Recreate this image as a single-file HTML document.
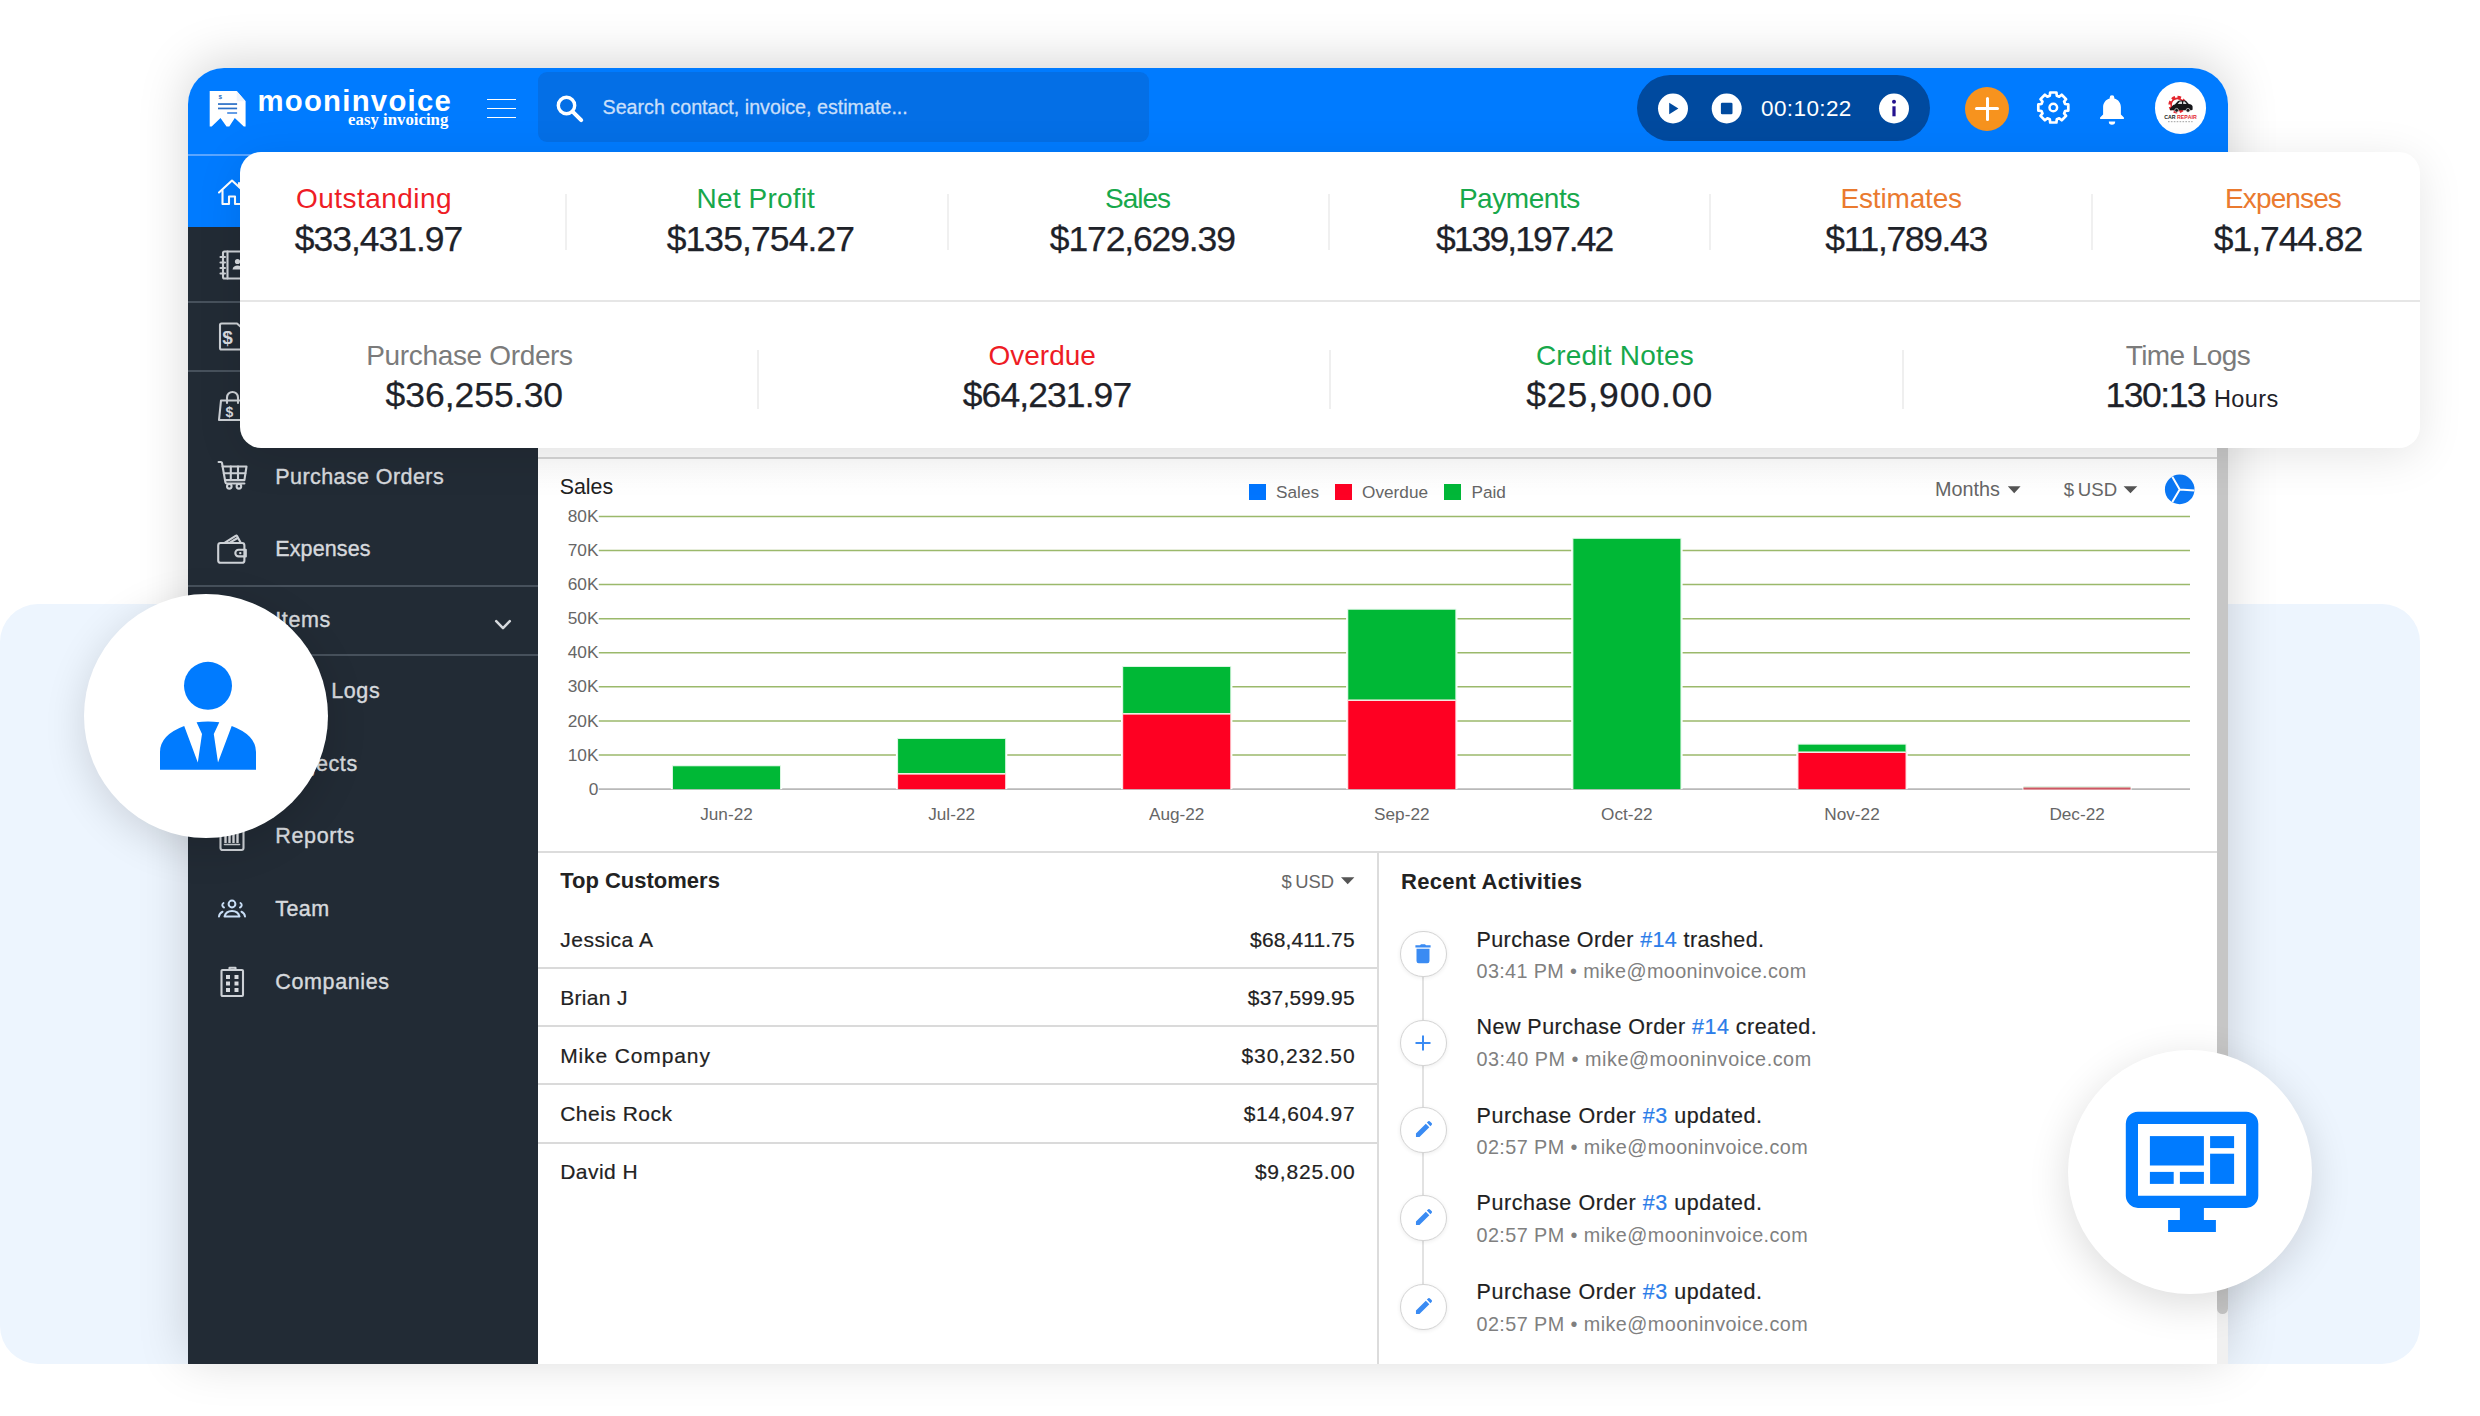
<!DOCTYPE html>
<html lang="en"><head><meta charset="utf-8"><title>Moon Invoice Dashboard</title>
<style>
html,body{margin:0;padding:0}
body{width:2480px;height:1416px;position:relative;overflow:hidden;background:#fff;font-family:'Liberation Sans', sans-serif;font-kerning:none;-webkit-font-smoothing:antialiased}
svg{position:absolute;overflow:visible}
</style></head><body>
<div style="position:absolute;left:0.0px;top:604.0px;width:2420.0px;height:760.0px;background:#edf5fe;border-radius:38px;"></div><div style="position:absolute;left:188.0px;top:68.0px;width:2040.0px;height:1296.0px;background:#fff;border-radius:36px 36px 0 0;box-shadow:0 -6px 50px rgba(0,0,0,.17);"></div><div style="position:absolute;left:0;top:0;width:2480px;height:1416px;clip-path:inset(68px 252px 52px 188px round 36px 36px 0 0);"><div style="position:absolute;left:188.0px;top:68.0px;width:2040.0px;height:88.0px;background:#007bff;"></div><svg style="left:200px;top:84px" width="60" height="50" viewBox="200 84 60 50">
<path d="M209.700 91.100 H236.700 L245.600 101.300 V126.500 H243.800 L234.800 117.900 L229.300 126.500 H226.500 L220.500 117.900 L211.700 126.500 H209.700 Z" fill="#fff"/>
<path d="M236.700 91.100 V101.300 H245.600 Z" fill="#eef4fd"/>
<text x="220.200" y="99.300" font-family="Liberation Sans, sans-serif" font-weight="bold" font-size="6.200" text-anchor="middle" fill="#2b6dc2">$</text>
<rect x="218" y="103.200" width="19.100" height="1.700" fill="#2b6fc6"/>
<rect x="218" y="107.600" width="19.100" height="1.700" fill="#2b6fc6"/>
<rect x="227.200" y="112.200" width="9.900" height="1.600" fill="#3f86e0"/>
</svg><div style="position:absolute;left:257.4px;top:86.0px;font:bold 29.3px/29.3px 'Liberation Sans', sans-serif;color:#fff;white-space:pre;letter-spacing:1.28px;">mooninvoice</div><div style="position:absolute;right:2031.7px;top:112.4px;font:bold 16.8px/16.8px 'Liberation Serif', serif;color:#fff;white-space:pre;">easy invoicing</div><div style="position:absolute;left:486.6px;top:98.6px;width:29.6px;height:1.8px;background:#fff;"></div><div style="position:absolute;left:486.6px;top:107.6px;width:29.6px;height:1.8px;background:#fff;"></div><div style="position:absolute;left:486.6px;top:116.6px;width:29.6px;height:1.8px;background:#fff;"></div><div style="position:absolute;left:538.0px;top:71.5px;width:611.0px;height:70.5px;background:#046fe6;border-radius:9px;"></div><svg style="left:555px;top:94.300px" width="30" height="30" viewBox="0 0 30 30">
<circle cx="11.5" cy="11.5" r="8.2" fill="none" stroke="#fff" stroke-width="3.4"/>
<path d="M17.6 17.6 L26.2 26.2" stroke="#fff" stroke-width="4" stroke-linecap="round"/></svg><div style="position:absolute;left:602.5px;top:97.5px;font:normal 19.7px/19.7px 'Liberation Sans', sans-serif;color:#c9dffa;white-space:pre;-webkit-text-stroke:.3px #c9dffa;">Search contact, invoice, estimate...</div><div style="position:absolute;left:1637.0px;top:75.3px;width:293.0px;height:66.0px;background:#004a9f;border-radius:33px;"></div><svg style="left:1657px;top:92px" width="260" height="34" viewBox="0 0 260 34">
<circle cx="16" cy="16.5" r="15" fill="#fff"/><path d="M12.200 10.800 V22.200 L21.400 16.500 Z" fill="#004a9f"/>
<circle cx="69.7" cy="16.5" r="15" fill="#fff"/><rect x="63.900" y="10.700" width="11.600" height="11.600" rx="1.300" fill="#004a9f"/>
<circle cx="237" cy="16.5" r="15" fill="#fff"/><rect x="235.4" y="14.3" width="3.2" height="10" fill="#24128f"/><circle cx="237" cy="9.8" r="2" fill="#24128f"/>
</svg><div style="position:absolute;left:1761.0px;top:98.1px;font:normal 22.5px/22.5px 'Liberation Sans', sans-serif;color:#fff;white-space:pre;letter-spacing:0.4px;">00:10:22</div><div style="position:absolute;left:1965.2px;top:86.5px;width:44.0px;height:44.0px;background:#f7931e;border-radius:50%;"></div><div style="position:absolute;left:1975.2px;top:107.0px;width:24.0px;height:3.0px;background:#fff;border-radius:1.5px;"></div><div style="position:absolute;left:1985.7px;top:96.5px;width:3.0px;height:24.0px;background:#fff;border-radius:1.5px;"></div><svg style="left:2030px;top:84px" width="48" height="48" viewBox="2030 84 48 48" fill="none" stroke="#fff" stroke-width="2.700" stroke-linejoin="round">
<path d="M2049.8 95.7 L2050.2 92.5 L2056.4 92.5 L2056.8 95.7 L2059.2 96.7 L2061.7 94.7 L2066.1 99.1 L2064.1 101.6 L2065.1 104.0 L2068.3 104.4 L2068.3 110.6 L2065.1 111.0 L2064.1 113.4 L2066.1 115.9 L2061.7 120.3 L2059.2 118.3 L2056.8 119.3 L2056.4 122.5 L2050.2 122.5 L2049.8 119.3 L2047.4 118.3 L2044.9 120.3 L2040.5 115.9 L2042.5 113.4 L2041.5 111.0 L2038.3 110.6 L2038.3 104.4 L2041.5 104.0 L2042.5 101.6 L2040.5 99.1 L2044.9 94.7 L2047.4 96.7 Z"/><circle cx="2053.300" cy="107.500" r="3.800" stroke-width="2.500"/></svg><svg style="left:2096.700px;top:92.500px" width="30" height="34" viewBox="0 0 30 34">
<path d="M15 2.2a2.3 2.3 0 0 1 2.3 2.3v.9c4 1 6.6 4.500 6.600 8.800v7.300l3 3v1.500H3.100v-1.500l3-3v-7.300c0-4.300 2.600-7.800 6.600-8.800v-.9A2.300 2.300 0 0 1 15 2.200z" fill="#fff"/>
<path d="M11.800 28.500h6.400a3.200 3.200 0 0 1-6.400 0z" fill="#fff"/></svg><div style="position:absolute;left:2154.7px;top:82.4px;width:51.8px;height:51.8px;background:#fff;border-radius:50%;"></div><svg style="left:2150px;top:80px" width="60" height="60" viewBox="2150 80 60 60">
<circle cx="2177.300" cy="104.600" r="7.300" fill="none" stroke="#e3262e" stroke-width="3.200" stroke-dasharray="3.400 2.330"/>
<circle cx="2177.300" cy="104.600" r="6.200" fill="none" stroke="#e3262e" stroke-width="1.600"/>
<path d="M2171.800 106.800 c.6-1.200 1.600-1.800 3-2.200 l3-3.300 c.5-.6 1.100-.9 2-.9 h4.600 c1 0 1.600.3 2.200 1 l2.200 2.600 c2.200.3 3.400 1 3.800 2.400 v2.600 c0 .8-.4 1.200-1.200 1.200 h-20.200 c-.9 0-1.400-.400-1.400-1.300 z" fill="#17171a"/>
<path d="M2177.600 104 l2.200-2.400 h2.200 v2.400 z M2183.200 101.600 h1.600 l1.900 2.400 h-3.500 z" fill="#fff" opacity=".85"/>
<circle cx="2176.600" cy="110.300" r="1.900" fill="#17171a" stroke="#fff" stroke-width=".6"/><circle cx="2188" cy="110.300" r="1.900" fill="#17171a" stroke="#fff" stroke-width=".6"/>
<text x="2164.200" y="119.400" font-family="Liberation Sans, sans-serif" font-size="5.300" font-weight="bold" textLength="32.600" lengthAdjust="spacingAndGlyphs" fill="#222">CAR <tspan fill="#e3262e">REPAIR</tspan></text>
<path d="M2168 121.700 h24.600" stroke="#888" stroke-width=".8" stroke-dasharray="1.600 1.300"/></svg><div style="position:absolute;left:188.0px;top:156.0px;width:349.5px;height:1208.0px;background:#222b35;"></div><div style="position:absolute;left:188.0px;top:154.0px;width:349.5px;height:1.6px;background:#5aa5ff;"></div><div style="position:absolute;left:188.0px;top:156.0px;width:349.5px;height:71.3px;background:#007bff;"></div><div style="position:absolute;left:188.0px;top:301.0px;width:349.5px;height:2.0px;background:#47515c;"></div><div style="position:absolute;left:188.0px;top:370.3px;width:349.5px;height:2.0px;background:#47515c;"></div><div style="position:absolute;left:188.0px;top:585.4px;width:349.5px;height:2.0px;background:#47515c;"></div><div style="position:absolute;left:188.0px;top:654.2px;width:349.5px;height:2.0px;background:#47515c;"></div><div style="position:absolute;left:275.3px;top:181.9px;font:normal 21.5px/21.5px 'Liberation Sans', sans-serif;color:#fff;white-space:pre;letter-spacing:0.62px;">Dashboard</div><div style="position:absolute;left:275.3px;top:255.8px;font:normal 21.5px/21.5px 'Liberation Sans', sans-serif;color:#d6d9dd;white-space:pre;letter-spacing:0.6px;-webkit-text-stroke:.4px #d6d9dd;">Contacts</div><div style="position:absolute;left:275.3px;top:326.8px;font:normal 21.5px/21.5px 'Liberation Sans', sans-serif;color:#d6d9dd;white-space:pre;letter-spacing:0.6px;-webkit-text-stroke:.4px #d6d9dd;">Invoices</div><div style="position:absolute;left:275.3px;top:396.3px;font:normal 21.5px/21.5px 'Liberation Sans', sans-serif;color:#d6d9dd;white-space:pre;letter-spacing:0.6px;-webkit-text-stroke:.4px #d6d9dd;">Estimates</div><div style="position:absolute;left:275.3px;top:466.7px;font:normal 21.5px/21.5px 'Liberation Sans', sans-serif;color:#d6d9dd;white-space:pre;letter-spacing:0.419px;-webkit-text-stroke:.4px #d6d9dd;">Purchase Orders</div><div style="position:absolute;left:275.3px;top:539.4px;font:normal 21.5px/21.5px 'Liberation Sans', sans-serif;color:#d6d9dd;white-space:pre;letter-spacing:0.11px;-webkit-text-stroke:.4px #d6d9dd;">Expenses</div><div style="position:absolute;left:275.3px;top:610.1px;font:normal 21.5px/21.5px 'Liberation Sans', sans-serif;color:#d6d9dd;white-space:pre;letter-spacing:0.6px;-webkit-text-stroke:.4px #d6d9dd;">Items</div><div style="position:absolute;left:275.3px;top:680.7px;font:normal 21.5px/21.5px 'Liberation Sans', sans-serif;color:#d6d9dd;white-space:pre;letter-spacing:0.6px;-webkit-text-stroke:.4px #d6d9dd;">Time Logs</div><div style="position:absolute;left:275.3px;top:753.6px;font:normal 21.5px/21.5px 'Liberation Sans', sans-serif;color:#d6d9dd;white-space:pre;letter-spacing:0.6px;-webkit-text-stroke:.4px #d6d9dd;">Projects</div><div style="position:absolute;left:275.3px;top:826.2px;font:normal 21.5px/21.5px 'Liberation Sans', sans-serif;color:#d6d9dd;white-space:pre;letter-spacing:0.631px;-webkit-text-stroke:.4px #d6d9dd;">Reports</div><div style="position:absolute;left:275.3px;top:899.1px;font:normal 21.5px/21.5px 'Liberation Sans', sans-serif;color:#d6d9dd;white-space:pre;letter-spacing:0.406px;-webkit-text-stroke:.4px #d6d9dd;">Team</div><div style="position:absolute;left:275.3px;top:971.6px;font:normal 21.5px/21.5px 'Liberation Sans', sans-serif;color:#d6d9dd;white-space:pre;letter-spacing:0.627px;-webkit-text-stroke:.4px #d6d9dd;">Companies</div><svg style="left:494px;top:618px" width="18" height="14" viewBox="0 0 18 14"><path d="M2.2 3.2 L9 10.2 L15.800 3.200" fill="none" stroke="#d6d9dd" stroke-width="2.500" stroke-linecap="round" stroke-linejoin="round"/></svg><svg style="left:217px;top:178px" width="32" height="28" viewBox="0 0 32 28"><g fill="none" stroke="#fff" stroke-width="2.100" stroke-linejoin="round" stroke-linecap="round">
<path d="M2 14.500 L15 2.500 L28 14.500"/><path d="M5.500 12.500 V26 H12 V18.500 H18 V26 H24.500 V12.500"/><path d="M22 5 V8.500"/></g></svg><svg style="left:218.600px;top:250.300px" width="32" height="30" viewBox="0 0 32 30"><g fill="none" stroke="#cdd1d6" stroke-width="2.100" stroke-linejoin="round" stroke-linecap="round">
<rect x="4" y="1.500" width="24" height="27" rx="1.500"/><path d="M8.500 1.500 V28.500"/>
<path d="M1.500 7 H6 M1.500 12.500 H6 M1.500 18 H6 M1.500 23.500 H6"/></g>
<circle cx="18.500" cy="11.500" r="2.600" fill="#d9dce0"/><path d="M13.500 19.500c.5-3 2.500-4 5-4s4.500 1 5 4z" fill="#d9dce0"/></svg><svg style="left:218px;top:322px" width="32" height="30" viewBox="0 0 32 30"><g fill="none" stroke="#cdd1d6" stroke-width="2.100" stroke-linejoin="round" stroke-linecap="round">
<path d="M19 1.500 H3.500 Q2 1.500 2 3 V26 Q2 27.500 3.500 27.500 H26 Q27.500 27.500 27.500 26 V9 Z"/></g>
<text x="9.500" y="22" font-family="Liberation Sans, sans-serif" font-weight="bold" font-size="19" fill="#d9dce0" text-anchor="middle">$</text></svg><svg style="left:217px;top:390px" width="32" height="32" viewBox="0 0 32 32"><g fill="none" stroke="#cdd1d6" stroke-width="2.100" stroke-linejoin="round" stroke-linecap="round">
<path d="M4 10.500 H27 L29 30 H2 Z"/><path d="M10 13 V7.500 a5.500 5.500 0 0 1 11 0 V13"/></g>
<text x="12.500" y="26.500" font-family="Liberation Sans, sans-serif" font-weight="bold" font-size="14" fill="#d9dce0" text-anchor="middle">$</text></svg><svg style="left:205px;top:450px" width="60" height="60" viewBox="205 450 60 60"><g fill="none" stroke="#cdd1d6" stroke-width="2.100" stroke-linejoin="round" stroke-linecap="round" stroke-width="2">
<path d="M218.600 462 H220.800 Q221.800 462 222 463 L225.400 482.300 Q225.600 483.500 226.800 483.500 H244.400"/>
<path d="M222.600 466.500 H246.500 L244.400 480.100 H225"/>
<path d="M230.800 466.500 V480.100 M238 466.500 V480.100 M223.800 473.300 H245.400"/>
<circle cx="229.300" cy="486.300" r="2.300"/><circle cx="238.900" cy="486.300" r="2.300"/></g></svg><svg style="left:205px;top:520px" width="60" height="60" viewBox="205 520 60 60"><g fill="none" stroke="#cdd1d6" stroke-width="2.100" stroke-linejoin="round" stroke-linecap="round" stroke-width="2.100">
<rect x="218.200" y="543" width="26.200" height="19.800" rx="2.400"/>
<path d="M224.900 542.600 L235.600 535.800 Q236.600 535.200 237.200 536.300 L240.600 542.600"/><path d="M229.800 542.600 L237.600 538"/>
<path d="M245.800 549.800 H238.600 a3.300 3.300 0 0 0 0 6.600 H245.800 Z"/></g><circle cx="240.300" cy="553.100" r="1.200" fill="#d9dce0"/></svg><svg style="left:218px;top:606px" width="30" height="30" viewBox="0 0 30 30"><g fill="none" stroke="#cdd1d6" stroke-width="2.100" stroke-linejoin="round" stroke-linecap="round"><path d="M15 2 L27 8 V22 L15 28 L3 22 V8 Z M3 8 L15 14 L27 8 M15 14 V28"/></g></svg><svg style="left:218px;top:676px" width="30" height="30" viewBox="0 0 30 30"><g fill="none" stroke="#cdd1d6" stroke-width="2.100" stroke-linejoin="round" stroke-linecap="round"><circle cx="15" cy="15" r="12"/><path d="M15 8 V15 L20 18"/></g></svg><svg style="left:218px;top:749px" width="30" height="30" viewBox="0 0 30 30"><g fill="none" stroke="#cdd1d6" stroke-width="2.100" stroke-linejoin="round" stroke-linecap="round"><rect x="3" y="8" width="24" height="18" rx="2"/><path d="M11 8 V4 H19 V8"/></g></svg><svg style="left:219px;top:822px" width="28" height="30" viewBox="0 0 28 30"><g fill="none" stroke="#cdd1d6" stroke-width="2.100" stroke-linejoin="round" stroke-linecap="round">
<rect x="1.500" y="1.500" width="23" height="26.500" rx="2"/><path d="M5.500 22.500 H20.500" stroke-width="1.600"/></g>
<path d="M6.500 21 V12 M10.500 21 V9 M14.500 21 V12 M18.500 21 V9" stroke="#d9dce0" stroke-width="2.400"/></svg><svg style="left:217px;top:898px" width="32" height="22" viewBox="0 0 32 22"><g fill="none" stroke="#c9def6" stroke-width="2" stroke-linecap="round">
<circle cx="15" cy="6" r="3.400"/><path d="M7.500 18.500 c1-4 4-5.500 7.500-5.500 s6.500 1.500 7.500 5.500 z" stroke-linejoin="round"/>
<path d="M6.500 5 a2.500 2.500 0 0 0 .5 4.500 M23.500 5 a2.500 2.500 0 0 1-.5 4.500"/><path d="M2 18.500 c.3-2.500 1.500-4 3.500-4.800 M28 18.500 c-.3-2.500-1.500-4-3.500-4.800"/></g></svg><svg style="left:219px;top:966px" width="28" height="32" viewBox="0 0 28 32"><g fill="none" stroke="#cdd1d6" stroke-width="2.100" stroke-linejoin="round" stroke-linecap="round">
<rect x="2.500" y="4" width="21.500" height="26" rx="1"/><path d="M10.500 4 V1.800 H16.500 V4"/></g>
<g fill="#d9dce0"><rect x="7" y="9" width="4" height="4"/><rect x="15.500" y="9" width="4" height="4"/><rect x="7" y="15.500" width="4" height="4"/><rect x="15.500" y="15.500" width="4" height="4"/><rect x="7" y="22" width="4" height="4"/><rect x="15.500" y="22" width="4" height="4"/></g></svg><div style="position:absolute;left:537.5px;top:152.0px;width:1690.5px;height:1212.0px;background:#fff;"></div><div style="position:absolute;left:537.5px;top:440.0px;width:1679.5px;height:18.0px;background:#fbfbfb;"></div><div style="position:absolute;left:537.5px;top:457.4px;width:1679.5px;height:2.0px;background:#d6d6d6;"></div><div style="position:absolute;left:537.5px;top:459.4px;width:1679.5px;height:34.0px;background:linear-gradient(#fefefe,#fff);"></div><div style="position:absolute;left:2217.0px;top:152.0px;width:11.0px;height:1212.0px;background:#f0f0f0;"></div><div style="position:absolute;left:2217.0px;top:152.0px;width:11.0px;height:1161.5px;background:#c6c6c6;border-radius:0 0 5.500px 5.500px;"></div><div style="position:absolute;left:559.7px;top:476.5px;font:normal 21.4px/21.4px 'Liberation Sans', sans-serif;color:#222;white-space:pre;">Sales</div><div style="position:absolute;left:1249.0px;top:484.2px;width:17.2px;height:15.6px;background:#0075ff;"></div><div style="position:absolute;left:1276.1px;top:484.1px;font:normal 17.2px/17.2px 'Liberation Sans', sans-serif;color:#666;white-space:pre;">Sales</div><div style="position:absolute;left:1334.8px;top:484.2px;width:17.2px;height:15.6px;background:#fe0024;"></div><div style="position:absolute;left:1362.1px;top:484.1px;font:normal 17.2px/17.2px 'Liberation Sans', sans-serif;color:#666;white-space:pre;">Overdue</div><div style="position:absolute;left:1444.0px;top:484.2px;width:17.2px;height:15.6px;background:#00b738;"></div><div style="position:absolute;left:1471.5px;top:484.1px;font:normal 17.2px/17.2px 'Liberation Sans', sans-serif;color:#666;white-space:pre;">Paid</div><div style="position:absolute;left:1935.0px;top:480.0px;font:normal 19.8px/19.8px 'Liberation Sans', sans-serif;color:#666;white-space:pre;">Months</div><div style="position:absolute;left:2063.8px;top:481.1px;font:normal 18.6px/18.6px 'Liberation Sans', sans-serif;color:#666;white-space:pre;word-spacing:-1.5px;">$ USD</div><svg style="left:2007px;top:485px" width="134" height="10" viewBox="0 0 134 10"><path d="M.8 1.300 H13.600 L7.200 8.300 Z M116.600 1.300 H130.300 L123.450 8.300 Z" fill="#555"/></svg><svg style="left:2164px;top:474px" width="32" height="32" viewBox="0 0 32 32"><circle cx="15.700" cy="15.400" r="14.800" fill="#0b78f5"/>
<path d="M15.700 15.400 L8.300 2.800 M15.700 15.400 L30.400 16.600 M15.700 15.400 L8.300 28" stroke="#fff" stroke-width="2" fill="none"/></svg><svg style="left:0;top:0" width="2480" height="1416" viewBox="0 0 2480 1416"><path d="M598.800 755.01 H2190" stroke="#9bb96b" stroke-width="1.500"/><path d="M598.800 720.92 H2190" stroke="#9bb96b" stroke-width="1.500"/><path d="M598.800 686.83 H2190" stroke="#9bb96b" stroke-width="1.500"/><path d="M598.800 652.74 H2190" stroke="#9bb96b" stroke-width="1.500"/><path d="M598.800 618.65 H2190" stroke="#9bb96b" stroke-width="1.500"/><path d="M598.800 584.56 H2190" stroke="#9bb96b" stroke-width="1.500"/><path d="M598.800 550.47 H2190" stroke="#9bb96b" stroke-width="1.500"/><path d="M598.800 516.38 H2190" stroke="#9bb96b" stroke-width="1.500"/><path d="M598.800 789.10 H2190" stroke="#b9b9b9" stroke-width="1.700"/><rect x="670.8" y="764.1" width="111.4" height="25.0" fill="#fff"/><rect x="672.0" y="765.3" width="109" height="23.8" fill="#d9f6e1"/><rect x="673.0" y="766.3" width="107" height="22.8" fill="#00b836"/><rect x="895.9" y="736.8" width="111.4" height="52.3" fill="#fff"/><rect x="897.1" y="738.0" width="109" height="36.3" fill="#d9f6e1"/><rect x="898.1" y="739.0" width="107" height="35.3" fill="#00b836"/><rect x="897.1" y="773.3" width="109" height="15.8" fill="#ffd9de"/><rect x="898.1" y="774.3" width="107" height="14.8" fill="#fe0022"/><path d="M898.1 773.7 h107" stroke="#f3e9e2" stroke-width="1.400"/><rect x="1121.0" y="664.8" width="111.4" height="124.3" fill="#fff"/><rect x="1122.2" y="666.0" width="109" height="48.3" fill="#d9f6e1"/><rect x="1123.2" y="667.0" width="107" height="47.3" fill="#00b836"/><rect x="1122.2" y="713.3" width="109" height="75.8" fill="#ffd9de"/><rect x="1123.2" y="714.3" width="107" height="74.8" fill="#fe0022"/><path d="M1123.2 713.7 h107" stroke="#f3e9e2" stroke-width="1.400"/><rect x="1346.1" y="607.6" width="111.4" height="181.5" fill="#fff"/><rect x="1347.3" y="608.8" width="109" height="92.1" fill="#d9f6e1"/><rect x="1348.3" y="609.8" width="107" height="91.1" fill="#00b836"/><rect x="1347.3" y="699.9" width="109" height="89.2" fill="#ffd9de"/><rect x="1348.3" y="700.9" width="107" height="88.2" fill="#fe0022"/><path d="M1348.3 700.3 h107" stroke="#f3e9e2" stroke-width="1.400"/><rect x="1571.2" y="536.7" width="111.4" height="252.4" fill="#fff"/><rect x="1572.4" y="537.9" width="109" height="251.2" fill="#d9f6e1"/><rect x="1573.4" y="538.9" width="107" height="250.2" fill="#00b836"/><rect x="1796.3" y="742.5" width="111.4" height="46.6" fill="#fff"/><rect x="1797.5" y="743.7" width="109" height="9.2" fill="#d9f6e1"/><rect x="1798.5" y="744.7" width="107" height="8.2" fill="#00b836"/><rect x="1797.5" y="751.9" width="109" height="37.2" fill="#ffd9de"/><rect x="1798.5" y="752.9" width="107" height="36.2" fill="#fe0022"/><path d="M1798.5 752.3 h107" stroke="#f3e9e2" stroke-width="1.400"/><rect x="2022.500" y="786" width="109" height="3.900" fill="#fff"/><rect x="2023.400" y="786.300" width="107.200" height="1.300" fill="#d5f0d8"/><rect x="2023.400" y="787.500" width="107.200" height="2.100" fill="#cd5763"/></svg><div style="position:absolute;right:1881.6px;top:507.9px;font:normal 17.3px/17.3px 'Liberation Sans', sans-serif;color:#666;white-space:pre;">80K</div><div style="position:absolute;right:1881.6px;top:542.0px;font:normal 17.3px/17.3px 'Liberation Sans', sans-serif;color:#666;white-space:pre;">70K</div><div style="position:absolute;right:1881.6px;top:576.1px;font:normal 17.3px/17.3px 'Liberation Sans', sans-serif;color:#666;white-space:pre;">60K</div><div style="position:absolute;right:1881.6px;top:610.2px;font:normal 17.3px/17.3px 'Liberation Sans', sans-serif;color:#666;white-space:pre;">50K</div><div style="position:absolute;right:1881.6px;top:644.3px;font:normal 17.3px/17.3px 'Liberation Sans', sans-serif;color:#666;white-space:pre;">40K</div><div style="position:absolute;right:1881.6px;top:678.4px;font:normal 17.3px/17.3px 'Liberation Sans', sans-serif;color:#666;white-space:pre;">30K</div><div style="position:absolute;right:1881.6px;top:712.5px;font:normal 17.3px/17.3px 'Liberation Sans', sans-serif;color:#666;white-space:pre;">20K</div><div style="position:absolute;right:1881.6px;top:746.6px;font:normal 17.3px/17.3px 'Liberation Sans', sans-serif;color:#666;white-space:pre;">10K</div><div style="position:absolute;right:1881.6px;top:780.7px;font:normal 17.3px/17.3px 'Liberation Sans', sans-serif;color:#666;white-space:pre;">0</div><div style="position:absolute;left:126.5px;width:1200px;text-align:center;top:805.7px;font:normal 17.2px/17.2px 'Liberation Sans', sans-serif;color:#666;white-space:pre;">Jun-22</div><div style="position:absolute;left:351.6px;width:1200px;text-align:center;top:805.7px;font:normal 17.2px/17.2px 'Liberation Sans', sans-serif;color:#666;white-space:pre;">Jul-22</div><div style="position:absolute;left:576.7px;width:1200px;text-align:center;top:805.7px;font:normal 17.2px/17.2px 'Liberation Sans', sans-serif;color:#666;white-space:pre;">Aug-22</div><div style="position:absolute;left:801.8px;width:1200px;text-align:center;top:805.7px;font:normal 17.2px/17.2px 'Liberation Sans', sans-serif;color:#666;white-space:pre;">Sep-22</div><div style="position:absolute;left:1026.9px;width:1200px;text-align:center;top:805.7px;font:normal 17.2px/17.2px 'Liberation Sans', sans-serif;color:#666;white-space:pre;">Oct-22</div><div style="position:absolute;left:1252.0px;width:1200px;text-align:center;top:805.7px;font:normal 17.2px/17.2px 'Liberation Sans', sans-serif;color:#666;white-space:pre;">Nov-22</div><div style="position:absolute;left:1477.1px;width:1200px;text-align:center;top:805.7px;font:normal 17.2px/17.2px 'Liberation Sans', sans-serif;color:#666;white-space:pre;">Dec-22</div><div style="position:absolute;left:537.5px;top:850.8px;width:1679.5px;height:2.0px;background:#dcdcdc;"></div><div style="position:absolute;left:1376.6px;top:852.0px;width:2.0px;height:512.0px;background:#dcdcdc;"></div><div style="position:absolute;left:560.2px;top:870.4px;font:bold 22px/22px 'Liberation Sans', sans-serif;color:#222;white-space:pre;">Top Customers</div><div style="position:absolute;left:1281.4px;top:873.4px;font:normal 18.4px/18.4px 'Liberation Sans', sans-serif;color:#666;white-space:pre;word-spacing:-1.5px;">$ USD</div><svg style="left:1340px;top:876px" width="16" height="10" viewBox="0 0 16 10"><path d="M1 1.300 H14.400 L7.700 8.300 Z" fill="#555"/></svg><div style="position:absolute;left:560.2px;top:928.5px;font:normal 21px/21px 'Liberation Sans', sans-serif;color:#222;white-space:pre;letter-spacing:0.51px;-webkit-text-stroke:.2px #222;">Jessica A</div><div style="position:absolute;right:1125.3px;top:928.5px;font:normal 21px/21px 'Liberation Sans', sans-serif;color:#222;white-space:pre;letter-spacing:0.105px;-webkit-text-stroke:.2px #222;">$68,411.75</div><div style="position:absolute;left:537.5px;top:967.0px;width:839.0px;height:2.0px;background:#dadada;"></div><div style="position:absolute;left:560.2px;top:986.7px;font:normal 21px/21px 'Liberation Sans', sans-serif;color:#222;white-space:pre;letter-spacing:0.306px;-webkit-text-stroke:.2px #222;">Brian J</div><div style="position:absolute;right:1125.2px;top:986.7px;font:normal 21px/21px 'Liberation Sans', sans-serif;color:#222;white-space:pre;letter-spacing:0.189px;-webkit-text-stroke:.2px #222;">$37,599.95</div><div style="position:absolute;left:537.5px;top:1025.2px;width:839.0px;height:2.0px;background:#dadada;"></div><div style="position:absolute;left:560.2px;top:1044.9px;font:normal 21px/21px 'Liberation Sans', sans-serif;color:#222;white-space:pre;letter-spacing:0.879px;-webkit-text-stroke:.2px #222;">Mike Company</div><div style="position:absolute;right:1124.5px;top:1044.9px;font:normal 21px/21px 'Liberation Sans', sans-serif;color:#222;white-space:pre;letter-spacing:0.889px;-webkit-text-stroke:.2px #222;">$30,232.50</div><div style="position:absolute;left:537.5px;top:1083.4px;width:839.0px;height:2.0px;background:#dadada;"></div><div style="position:absolute;left:560.2px;top:1103.1px;font:normal 21px/21px 'Liberation Sans', sans-serif;color:#222;white-space:pre;letter-spacing:0.493px;-webkit-text-stroke:.2px #222;">Cheis Rock</div><div style="position:absolute;right:1124.8px;top:1103.1px;font:normal 21px/21px 'Liberation Sans', sans-serif;color:#222;white-space:pre;letter-spacing:0.639px;-webkit-text-stroke:.2px #222;">$14,604.97</div><div style="position:absolute;left:537.5px;top:1141.6px;width:839.0px;height:2.0px;background:#dadada;"></div><div style="position:absolute;left:560.2px;top:1161.3px;font:normal 21px/21px 'Liberation Sans', sans-serif;color:#222;white-space:pre;letter-spacing:0.473px;-webkit-text-stroke:.2px #222;">David H</div><div style="position:absolute;right:1124.6px;top:1161.3px;font:normal 21px/21px 'Liberation Sans', sans-serif;color:#222;white-space:pre;letter-spacing:0.786px;-webkit-text-stroke:.2px #222;">$9,825.00</div><div style="position:absolute;left:1401.0px;top:870.8px;font:bold 22px/22px 'Liberation Sans', sans-serif;color:#222;white-space:pre;letter-spacing:0.28px;">Recent Activities</div><div style="position:absolute;left:1422.1px;top:953.8px;width:2.0px;height:353.0px;background:#e2e2e2;"></div><div style="position:absolute;left:1400.2px;top:930.6px;width:46.4px;height:46.4px;background:#fff;border-radius:50%;box-sizing:border-box;border:1.700px solid #d4d4d4;box-shadow:0 1px 4px rgba(0,0,0,.08);"></div><svg style="left:1423.400px;top:953.8px" width="1" height="1"><path d="M-6.500 -5.200 H6.500 V7 Q6.500 9.200 4.300 9.200 H-4.300 Q-6.500 9.200 -6.500 7 Z M-7.600 -8.700 H-3 L-2 -9.800 H2 L3 -8.700 H7.600 V-6.600 H-7.600 Z" fill="#3a8bf3"/></svg><div style="position:absolute;left:1476.5px;top:929.7px;font:normal 21.5px/21.5px 'Liberation Sans', sans-serif;color:#1f1f1f;white-space:pre;letter-spacing:0.394px;-webkit-text-stroke:.2px;">Purchase Order <span style="color:#2b7de9">#14</span> trashed.</div><div style="position:absolute;left:1476.5px;top:962.4px;font:normal 19.8px/19.8px 'Liberation Sans', sans-serif;color:#808080;white-space:pre;letter-spacing:0.375px;">03:41 PM • mike@mooninvoice.com</div><div style="position:absolute;left:1400.2px;top:1019.6px;width:46.4px;height:46.4px;background:#fff;border-radius:50%;box-sizing:border-box;border:1.700px solid #d4d4d4;box-shadow:0 1px 4px rgba(0,0,0,.08);"></div><svg style="left:1423.400px;top:1042.8px" width="1" height="1"><path d="M-7.500 0 H7.500 M0 -7.500 V7.500" stroke="#3a8bf3" stroke-width="2" fill="none"/></svg><div style="position:absolute;left:1476.5px;top:1017.2px;font:normal 21.5px/21.5px 'Liberation Sans', sans-serif;color:#1f1f1f;white-space:pre;letter-spacing:0.466px;-webkit-text-stroke:.2px;">New Purchase Order <span style="color:#2b7de9">#14</span> created.</div><div style="position:absolute;left:1476.5px;top:1050.0px;font:normal 19.8px/19.8px 'Liberation Sans', sans-serif;color:#808080;white-space:pre;letter-spacing:0.543px;">03:40 PM • mike@mooninvoice.com</div><div style="position:absolute;left:1400.2px;top:1107.0px;width:46.4px;height:46.4px;background:#fff;border-radius:50%;box-sizing:border-box;border:1.700px solid #d4d4d4;box-shadow:0 1px 4px rgba(0,0,0,.08);"></div><svg style="left:1423.400px;top:1130.2px" width="1" height="1"><path d="M-8 8 V4 L3.200 -7.200 L7.200 -3.200 L-4 8 Z M4.400 -8.400 L6 -10 Q6.800 -10.600 7.600 -10 L10 -7.600 Q10.600 -6.800 10 -6 L8.400 -4.400 Z" fill="#3a8bf3" transform="scale(.88)"/></svg><div style="position:absolute;left:1476.5px;top:1105.6px;font:normal 21.5px/21.5px 'Liberation Sans', sans-serif;color:#1f1f1f;white-space:pre;letter-spacing:0.565px;-webkit-text-stroke:.2px;">Purchase Order <span style="color:#2b7de9">#3</span> updated.</div><div style="position:absolute;left:1476.5px;top:1138.0px;font:normal 19.8px/19.8px 'Liberation Sans', sans-serif;color:#808080;white-space:pre;letter-spacing:0.43px;">02:57 PM • mike@mooninvoice.com</div><div style="position:absolute;left:1400.2px;top:1194.7px;width:46.4px;height:46.4px;background:#fff;border-radius:50%;box-sizing:border-box;border:1.700px solid #d4d4d4;box-shadow:0 1px 4px rgba(0,0,0,.08);"></div><svg style="left:1423.400px;top:1217.9px" width="1" height="1"><path d="M-8 8 V4 L3.200 -7.200 L7.200 -3.200 L-4 8 Z M4.400 -8.400 L6 -10 Q6.800 -10.600 7.600 -10 L10 -7.600 Q10.600 -6.800 10 -6 L8.400 -4.400 Z" fill="#3a8bf3" transform="scale(.88)"/></svg><div style="position:absolute;left:1476.5px;top:1192.9px;font:normal 21.5px/21.5px 'Liberation Sans', sans-serif;color:#1f1f1f;white-space:pre;letter-spacing:0.565px;-webkit-text-stroke:.2px;">Purchase Order <span style="color:#2b7de9">#3</span> updated.</div><div style="position:absolute;left:1476.5px;top:1225.8px;font:normal 19.8px/19.8px 'Liberation Sans', sans-serif;color:#808080;white-space:pre;letter-spacing:0.43px;">02:57 PM • mike@mooninvoice.com</div><div style="position:absolute;left:1400.2px;top:1283.6px;width:46.4px;height:46.4px;background:#fff;border-radius:50%;box-sizing:border-box;border:1.700px solid #d4d4d4;box-shadow:0 1px 4px rgba(0,0,0,.08);"></div><svg style="left:1423.400px;top:1306.8px" width="1" height="1"><path d="M-8 8 V4 L3.200 -7.200 L7.200 -3.200 L-4 8 Z M4.400 -8.400 L6 -10 Q6.800 -10.600 7.600 -10 L10 -7.600 Q10.600 -6.800 10 -6 L8.400 -4.400 Z" fill="#3a8bf3" transform="scale(.88)"/></svg><div style="position:absolute;left:1476.5px;top:1281.6px;font:normal 21.5px/21.5px 'Liberation Sans', sans-serif;color:#1f1f1f;white-space:pre;letter-spacing:0.565px;-webkit-text-stroke:.2px;">Purchase Order <span style="color:#2b7de9">#3</span> updated.</div><div style="position:absolute;left:1476.5px;top:1314.5px;font:normal 19.8px/19.8px 'Liberation Sans', sans-serif;color:#808080;white-space:pre;letter-spacing:0.43px;">02:57 PM • mike@mooninvoice.com</div></div><div style="position:absolute;left:240.0px;top:152.0px;width:2180.0px;height:296.0px;background:#fff;border-radius:21px;box-shadow:0 8px 46px rgba(0,0,0,.10);"></div><div style="position:absolute;left:0;top:0;width:2480px;height:1416px;clip-path:inset(152px 60px 968px 240px round 21px);"><div style="position:absolute;left:240.0px;top:299.6px;width:2180.0px;height:2.0px;background:#e6e6e6;"></div><div style="position:absolute;left:-226.0px;width:1200px;text-align:center;top:185.3px;font:normal 28px/28px 'Liberation Sans', sans-serif;color:#ee1c25;white-space:pre;letter-spacing:0.455px;">Outstanding</div><div style="position:absolute;left:-221.5px;width:1200px;text-align:center;top:221.5px;font:normal 35.5px/35.5px 'Liberation Sans', sans-serif;color:#1e2229;white-space:pre;letter-spacing:-0.998px;-webkit-text-stroke:.25px #1e2229;">$33,431.97</div><div style="position:absolute;left:565.2px;top:193.5px;width:2.0px;height:56.0px;background:#f0f0f0;"></div><div style="position:absolute;left:155.8px;width:1200px;text-align:center;top:185.3px;font:normal 28px/28px 'Liberation Sans', sans-serif;color:#17a84b;white-space:pre;letter-spacing:0.189px;">Net Profit</div><div style="position:absolute;left:160.4px;width:1200px;text-align:center;top:221.5px;font:normal 35.5px/35.5px 'Liberation Sans', sans-serif;color:#1e2229;white-space:pre;letter-spacing:-0.902px;-webkit-text-stroke:.25px #1e2229;">$135,754.27</div><div style="position:absolute;left:946.6px;top:193.5px;width:2.0px;height:56.0px;background:#f0f0f0;"></div><div style="position:absolute;left:537.6px;width:1200px;text-align:center;top:185.3px;font:normal 28px/28px 'Liberation Sans', sans-serif;color:#17a84b;white-space:pre;letter-spacing:-1.009px;">Sales</div><div style="position:absolute;left:542.3px;width:1200px;text-align:center;top:221.5px;font:normal 35.5px/35.5px 'Liberation Sans', sans-serif;color:#1e2229;white-space:pre;letter-spacing:-1.129px;-webkit-text-stroke:.25px #1e2229;">$172,629.39</div><div style="position:absolute;left:1328.0px;top:193.5px;width:2.0px;height:56.0px;background:#f0f0f0;"></div><div style="position:absolute;left:919.4px;width:1200px;text-align:center;top:185.3px;font:normal 28px/28px 'Liberation Sans', sans-serif;color:#17a84b;white-space:pre;letter-spacing:-0.437px;">Payments</div><div style="position:absolute;left:924.2px;width:1200px;text-align:center;top:221.5px;font:normal 35.5px/35.5px 'Liberation Sans', sans-serif;color:#1e2229;white-space:pre;letter-spacing:-1.902px;-webkit-text-stroke:.25px #1e2229;">$139,197.42</div><div style="position:absolute;left:1709.4px;top:193.5px;width:2.0px;height:56.0px;background:#f0f0f0;"></div><div style="position:absolute;left:1301.2px;width:1200px;text-align:center;top:185.3px;font:normal 28px/28px 'Liberation Sans', sans-serif;color:#ea7a2f;white-space:pre;letter-spacing:-0.159px;">Estimates</div><div style="position:absolute;left:1306.1px;width:1200px;text-align:center;top:221.5px;font:normal 35.5px/35.5px 'Liberation Sans', sans-serif;color:#1e2229;white-space:pre;letter-spacing:-1.354px;-webkit-text-stroke:.25px #1e2229;">$11,789.43</div><div style="position:absolute;left:2090.8px;top:193.5px;width:2.0px;height:56.0px;background:#f0f0f0;"></div><div style="position:absolute;left:1683.0px;width:1200px;text-align:center;top:185.3px;font:normal 28px/28px 'Liberation Sans', sans-serif;color:#ea7a2f;white-space:pre;letter-spacing:-0.871px;">Expenses</div><div style="position:absolute;left:1688.0px;width:1200px;text-align:center;top:221.5px;font:normal 35.5px/35.5px 'Liberation Sans', sans-serif;color:#1e2229;white-space:pre;letter-spacing:-1.048px;-webkit-text-stroke:.25px #1e2229;">$1,744.82</div><div style="position:absolute;left:-130.5px;width:1200px;text-align:center;top:341.7px;font:normal 28px/28px 'Liberation Sans', sans-serif;color:#7b7b7b;white-space:pre;letter-spacing:-0.343px;">Purchase Orders</div><div style="position:absolute;left:-125.7px;width:1200px;text-align:center;top:377.8px;font:normal 35.5px/35.5px 'Liberation Sans', sans-serif;color:#1e2229;white-space:pre;letter-spacing:-0.008px;-webkit-text-stroke:.25px #1e2229;">$36,255.30</div><div style="position:absolute;left:442.2px;width:1200px;text-align:center;top:341.7px;font:normal 28px/28px 'Liberation Sans', sans-serif;color:#ee1c25;white-space:pre;letter-spacing:0.015px;">Overdue</div><div style="position:absolute;left:447.0px;width:1200px;text-align:center;top:377.8px;font:normal 35.5px/35.5px 'Liberation Sans', sans-serif;color:#1e2229;white-space:pre;letter-spacing:-0.918px;-webkit-text-stroke:.25px #1e2229;">$64,231.97</div><div style="position:absolute;left:1014.9px;width:1200px;text-align:center;top:341.7px;font:normal 28px/28px 'Liberation Sans', sans-serif;color:#17a84b;white-space:pre;letter-spacing:0.199px;">Credit Notes</div><div style="position:absolute;left:1019.7px;width:1200px;text-align:center;top:377.8px;font:normal 35.5px/35.5px 'Liberation Sans', sans-serif;color:#1e2229;white-space:pre;letter-spacing:0.932px;-webkit-text-stroke:.25px #1e2229;">$25,900.00</div><div style="position:absolute;left:757.2px;top:350.0px;width:2.0px;height:59.0px;background:#efefef;"></div><div style="position:absolute;left:1329.4px;top:350.0px;width:2.0px;height:59.0px;background:#efefef;"></div><div style="position:absolute;left:1901.6px;top:350.0px;width:2.0px;height:59.0px;background:#efefef;"></div><div style="position:absolute;left:1588.0px;width:1200px;text-align:center;top:341.7px;font:normal 28px/28px 'Liberation Sans', sans-serif;color:#7b7b7b;white-space:pre;letter-spacing:-0.565px;">Time Logs</div><div style="position:absolute;left:2105.6px;top:377.5px;font:normal 35.5px/35.5px 'Liberation Sans', sans-serif;color:#1e2229;white-space:pre;letter-spacing:-1.514px;-webkit-text-stroke:.25px #1e2229;">130:13</div><div style="position:absolute;left:2214.0px;top:387.7px;font:normal 23.5px/23.5px 'Liberation Sans', sans-serif;color:#1e2229;white-space:pre;letter-spacing:0.362px;">Hours</div></div><div style="position:absolute;left:84.0px;top:594.0px;width:244.0px;height:244.0px;background:#fff;border-radius:50%;box-shadow:0 10px 42px rgba(0,0,0,.14);"></div><svg style="left:150px;top:650px" width="120" height="130" viewBox="150 650 120 130">
<circle cx="208" cy="685.800" r="24" fill="#007bff"/>
<path d="M160 769.800 V752 Q160 735 184.200 726 L197.800 762.500 L202 734 L196.600 722.300 Q208 720.800 219.300 722.300 L213.800 734 L218 762.500 L231.700 726 Q256 735 256 752 V769.800 Z" fill="#007bff"/></svg><div style="position:absolute;left:2068.0px;top:1050.0px;width:244.0px;height:244.0px;background:#fff;border-radius:50%;box-shadow:0 10px 42px rgba(0,0,0,.14);"></div><svg style="left:2120px;top:1105px" width="144" height="134" viewBox="2120 1105 144 134">
<rect x="2131.900" y="1117.800" width="120.300" height="84" rx="6" fill="none" stroke="#007bff" stroke-width="12.200"/>
<g fill="#007bff"><rect x="2149.900" y="1136.100" width="54" height="29.400"/><rect x="2210.100" y="1136.100" width="24" height="12"/>
<rect x="2210.100" y="1153.700" width="24" height="30.200"/><rect x="2149.900" y="1171.900" width="23.800" height="12"/><rect x="2179.900" y="1171.900" width="24" height="12"/>
<rect x="2179.900" y="1207" width="24" height="14"/><rect x="2168.100" y="1220" width="47.800" height="12"/></g></svg>
</body></html>
